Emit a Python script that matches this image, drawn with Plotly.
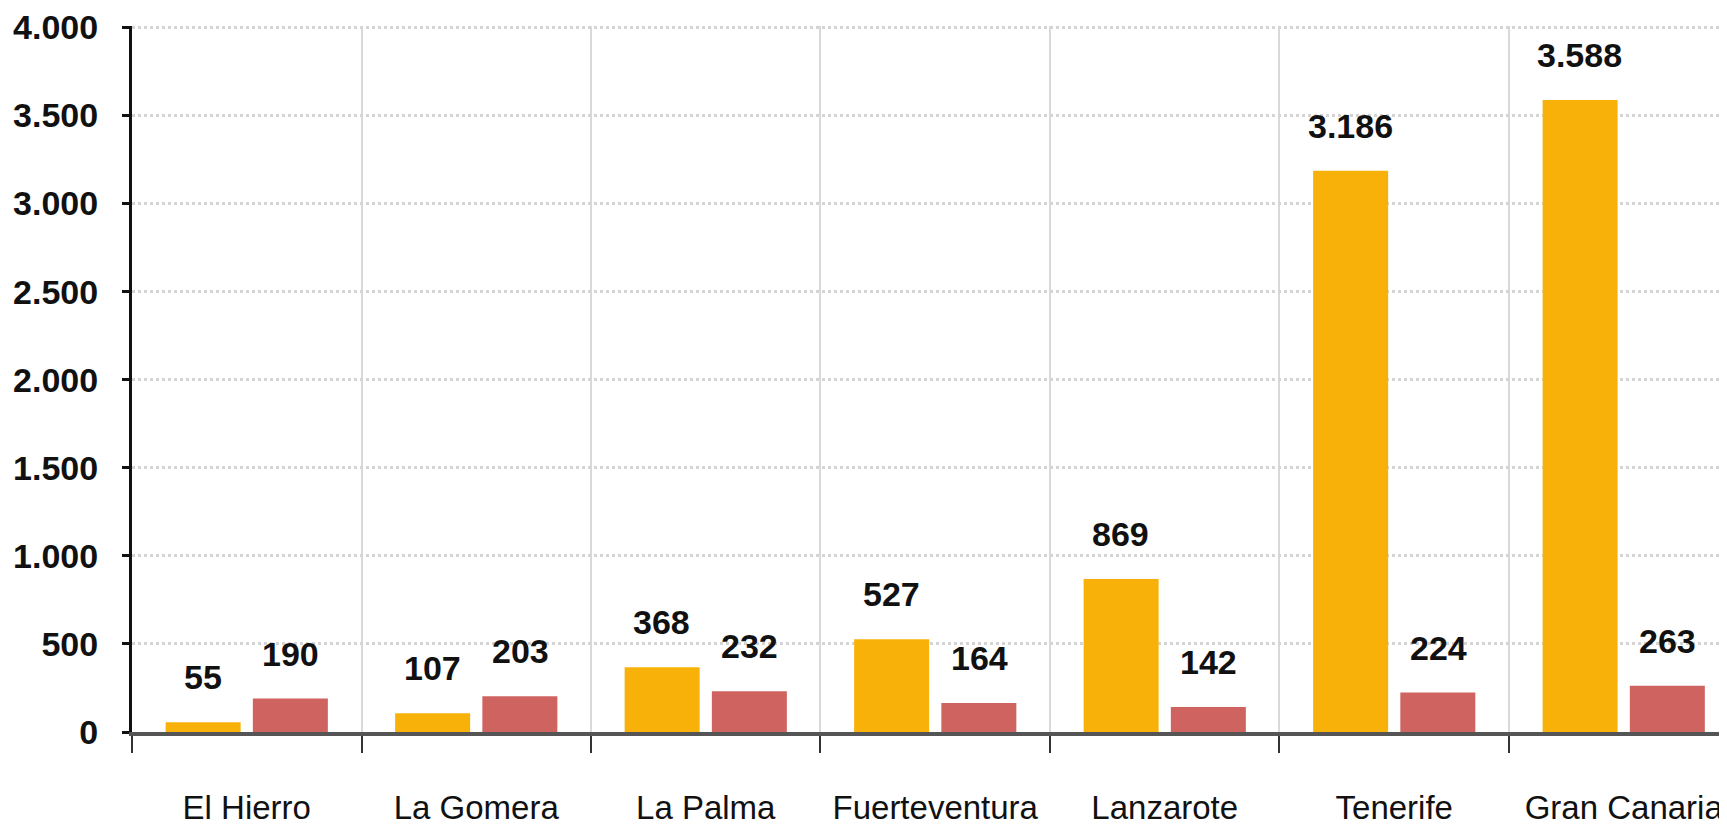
import plotly.graph_objects as go

islands = ["El Hierro", "La Gomera", "La Palma", "Fuerteventura",
           "Lanzarote", "Tenerife", "Gran Canaria"]
serie_naranja = [55, 107, 368, 527, 869, 3186, 3588]
serie_roja = [190, 203, 232, 164, 142, 224, 263]

y_ticks = [0, 500, 1000, 1500, 2000, 2500, 3000, 3500, 4000]

FONT = "Liberation Sans, Arial, sans-serif"
ORANGE = "#F8B109"
RED = "#CE635F"


def fmt(v):
    return f"{v:,}".replace(",", ".")


fig = go.Figure()
fig.add_trace(go.Bar(x=islands, y=serie_naranja, marker_color=ORANGE,
                     marker_line_width=0, name="naranja"))
fig.add_trace(go.Bar(x=islands, y=serie_roja, marker_color=RED,
                     marker_line_width=0, name="roja"))

# value labels above each bar
for values, shift in ((serie_naranja, -44), (serie_roja, 44)):
    for isla, v in zip(islands, values):
        fig.add_annotation(x=isla, y=v, text=fmt(v), showarrow=False,
                           xshift=shift, yshift=45, yanchor="middle",
                           font=dict(family=FONT, size=34, color="#111111",
                                     weight="bold"))

fig.update_layout(
    width=1719,
    height=821,
    margin=dict(l=124, r=0, t=18, b=97),
    paper_bgcolor="white",
    plot_bgcolor="white",
    showlegend=False,
    barmode="group",
    bargap=0.24,
    bargroupgap=0.14,
    separators=",.",
    font=dict(family=FONT, color="#111111"),
)

fig.update_xaxes(
    range=[-0.5, 6.45],
    automargin=False,
    tickangle=0,
    tickson="boundaries",
    ticks="outside",
    ticklen=17,
    tickwidth=2,
    tickcolor="#333333",
    showgrid=True,
    gridcolor="#d9d9d9",
    gridwidth=2,
    showline=True,
    linecolor="#555555",
    linewidth=4,
    ticklabelstandoff=43,
    tickfont=dict(family=FONT, size=33, color="#111111"),
)

fig.update_yaxes(
    range=[0, 4008],
    automargin=False,
    tickvals=y_ticks,
    tickformat=",d",
    ticks="outside",
    ticklen=7,
    tickwidth=3,
    tickcolor="#111111",
    showgrid=True,
    gridcolor="#d4d4d4",
    gridwidth=3,
    griddash="dot",
    showline=True,
    linecolor="#111111",
    linewidth=3,
    zeroline=False,
    ticklabelstandoff=17,
    ticklabeloverflow="allow",
    tickfont=dict(family=FONT, size=34, color="#111111", weight="bold"),
)

fig.write_html("out.html")
